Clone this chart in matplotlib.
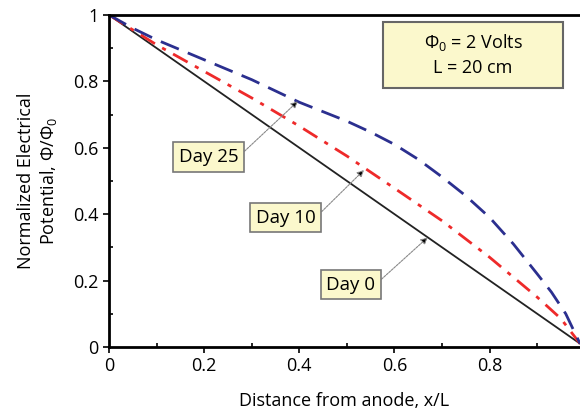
import matplotlib
matplotlib.use("Agg")
from matplotlib import pyplot as plt
from matplotlib.ticker import MultipleLocator
from matplotlib.patches import Rectangle

plt.rcParams['font.family'] = ['Open Sans', 'DejaVu Sans']
plt.rcParams['mathtext.fontset'] = 'custom'
plt.rcParams['mathtext.rm'] = 'Open Sans'
plt.rcParams['mathtext.it'] = 'Open Sans'

# values
x_day0 = [0.0, 0.99]
v_day0 = [1.0, 0.01]

x_day10 = [0.0, 0.1, 0.2, 0.3, 0.4, 0.5, 0.6, 0.7, 0.8, 0.9, 0.95, 0.99]
v_day10 = [1.0, 0.91, 0.83, 0.75, 0.665, 0.575, 0.478, 0.38, 0.27, 0.15, 0.085, 0.01]

x_day25 = [0.0, 0.05, 0.1, 0.2, 0.3, 0.4, 0.5, 0.55, 0.6, 0.65, 0.7, 0.75, 0.8,
           0.85, 0.9, 0.93, 0.96, 0.99]
v_day25 = [1.0, 0.96, 0.925, 0.865, 0.805, 0.737, 0.68, 0.647, 0.61, 0.565, 0.512,
           0.455, 0.39, 0.31, 0.22, 0.165, 0.1, 0.01]

labels = ['Day 25', 'Day 10', 'Day 0']
label_pos = [(0.209, 0.572), (0.371, 0.389), (0.508, 0.187)]
arrow_tip = [(0.397, 0.74), (0.536, 0.533), (0.67, 0.33)]

fig = plt.figure(figsize=(5.8, 4.15), dpi=100)
ax = fig.add_axes([0.188, 0.164, 0.812, 0.8])

ax.plot(x_day0, v_day0, color='#222222', lw=1.3)
ax.plot(x_day10, v_day10, color='#ee2a2a', lw=2, ls=(0, (6, 3, 1.5, 3)))
ax.plot(x_day25, v_day25, color='#2b2f8f', lw=2, ls=(0, (7, 3.5)))

box = dict(boxstyle='square,pad=0.3', fc='#fbf8cc', ec='#777777', lw=1.2)
for lab, pos, tip in zip(labels, label_pos, arrow_tip):
    ax.annotate(lab, xy=tip, xytext=pos, fontsize=13.5, ha='center', va='center',
                bbox=box,
                arrowprops=dict(arrowstyle='-|>', color='#888888', lw=0.8, ls=(0, (2, 1)),
                                relpos=(1, 0.5), shrinkA=0, shrinkB=0,
                                mutation_scale=10, fc='black'))

ax.add_patch(Rectangle((0.582, 0.78), 0.382, 0.199, transform=ax.transAxes,
                       fc='#fbf8cc', ec='#666666', lw=1.5, zorder=5))
ax.text(0.773, 0.88, '$\\Phi_0$ = 2 Volts\nL = 20 cm', transform=ax.transAxes,
        fontsize=13, ha='center', va='center', linespacing=1.4, zorder=6)

ax.set_xlim(0, 0.99)
ax.set_ylim(0, 1)
ax.xaxis.set_major_locator(MultipleLocator(0.2))
ax.xaxis.set_minor_locator(MultipleLocator(0.1))
ax.yaxis.set_major_locator(MultipleLocator(0.2))
ax.yaxis.set_minor_locator(MultipleLocator(0.1))
fmt = lambda v, p: '0' if abs(v) < 1e-9 else ('1' if abs(v - 1) < 1e-9 else f'{v:.1f}')
ax.xaxis.set_major_formatter(fmt)
ax.yaxis.set_major_formatter(fmt)
ax.tick_params(which='major', direction='out', length=4, width=1.2, labelsize=13)
ax.tick_params(which='minor', direction='in', length=3, width=1.2)

ax.spines['right'].set_visible(False)
for s in ['left', 'bottom', 'top']:
    ax.spines[s].set_linewidth(2)

ax.set_xlabel('Distance from anode, x/L', fontsize=13, labelpad=12)
ax.set_ylabel('Normalized Electrical\nPotential, $\\Phi/\\Phi_0$', fontsize=13, labelpad=10)

fig.savefig('out.png', dpi=100)
